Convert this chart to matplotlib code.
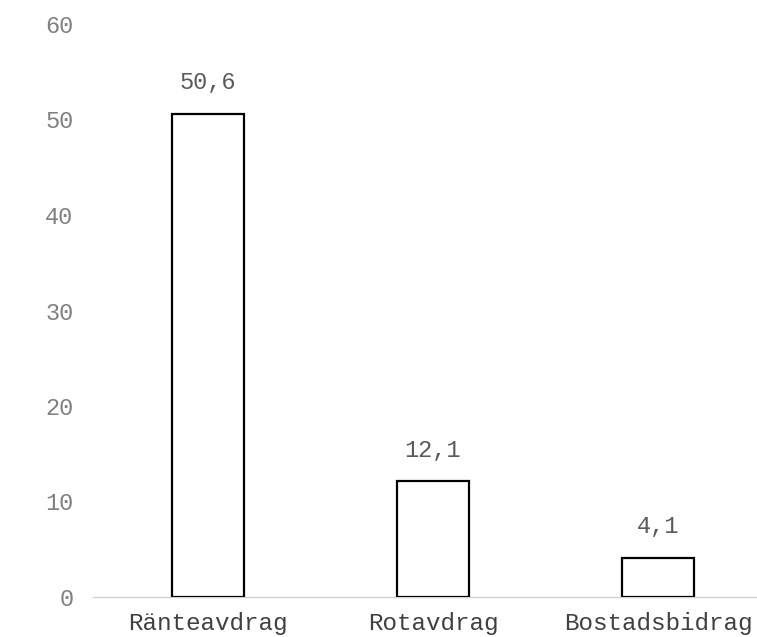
import matplotlib
matplotlib.use("Agg")
import matplotlib.pyplot as plt

categories = ["Ränteavdrag", "Rotavdrag", "Bostadsbidrag"]
values = [50.6, 12.1, 4.1]
yticks = [0, 10, 20, 30, 40, 50, 60]

plt.rcParams['font.family'] = ['Liberation Mono', 'DejaVu Sans Mono']

fig = plt.figure(figsize=(7.57, 6.37), dpi=100)
ax = fig.add_axes([93/757, 1-597/637, 1-93/757, (597-24)/637])

x = list(range(len(categories)))
bars = ax.bar(x, values, width=0.316, facecolor='white', edgecolor='black', linewidth=1.6, zorder=3)

for xi, v in zip(x, values):
    ax.annotate(f"{v:.1f}".replace('.', ','), (xi, v), xytext=(0, 14), textcoords='offset points',
                ha='center', va='bottom', fontsize=17, color='#5a5a5a')

ax.set_xlim(-0.511, 2.44)
ax.set_ylim(0, 60)
ax.set_yticks(yticks)
ax.set_yticklabels([str(t) for t in yticks], fontsize=17, color='#808080')
ax.set_xticks(x)
ax.set_xticklabels(categories, fontsize=17.5, color='#404040')
ax.tick_params(axis='both', length=0)
ax.tick_params(axis='y', pad=14)
ax.tick_params(axis='x', pad=11)
for s in ['top', 'right', 'left']:
    ax.spines[s].set_visible(False)
ax.spines['bottom'].set_color('#d0d0d0')
ax.spines['bottom'].set_linewidth(1.0)

fig.savefig("out.png", dpi=100)
